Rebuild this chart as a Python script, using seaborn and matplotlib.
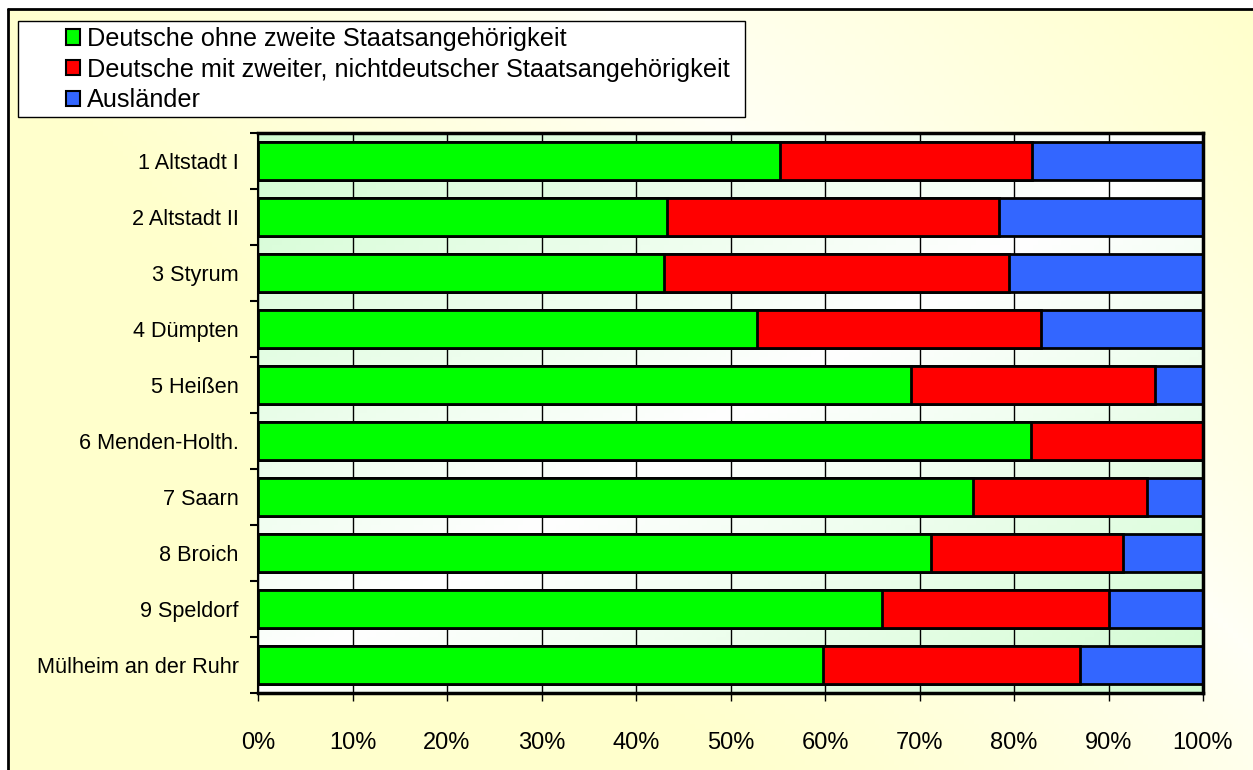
import numpy as np
import pandas as pd
import matplotlib
matplotlib.use("Agg")
import matplotlib.pyplot as plt
import seaborn as sns
from matplotlib.patches import Patch, Rectangle
from matplotlib.lines import Line2D

# Werte in Prozent
stadtteile = ['1 Altstadt I', '2 Altstadt II', '3 Styrum', '4 Dümpten', '5 Heißen',
              '6 Menden-Holth.', '7 Saarn', '8 Broich', '9 Speldorf', 'Mülheim an der Ruhr']
deutsche_ohne = [55.2, 43.3, 43.0, 52.8, 69.1, 81.8, 75.7, 71.2, 66.0, 59.8]
deutsche_mit = [26.7, 35.1, 36.5, 30.1, 25.8, 18.2, 18.4, 20.3, 24.0, 27.2]
auslaender = [18.1, 21.6, 20.5, 17.1, 5.1, 0.0, 5.9, 8.5, 10.0, 13.0]

serien = ['Deutsche ohne zweite Staatsangehörigkeit',
          'Deutsche mit zweiter, nichtdeutscher Staatsangehörigkeit',
          'Ausländer']
farben = ['#00FF00', '#FF0000', '#3366FF']

df = pd.DataFrame({'stadtteil': stadtteile, 'g': deutsche_ohne,
                   'r': deutsche_mit, 'b': auslaender})
df['cum_g'] = df['g']
df['cum_r'] = df['g'] + df['r']
df['cum_b'] = df['g'] + df['r'] + df['b']

sns.set_style('white')
plt.rcParams['font.family'] = ['Liberation Sans', 'DejaVu Sans']
plt.rcParams['text.color'] = 'black'
plt.rcParams['xtick.color'] = 'black'
plt.rcParams['ytick.color'] = 'black'

W, H = 1253, 770
fig = plt.figure(figsize=(W / 100, H / 100), dpi=100, facecolor='white')

# Hintergrund der Abbildung (gelblicher Verlauf, Pixelkoordinaten)
bg = fig.add_axes([8 / W, 0, 1 - 8 / W, 1 - 9 / H], zorder=-10)
px, py = np.meshgrid(np.linspace(8, W, 250), np.linspace(9, H, 150))
t = np.clip(np.abs((px - py) - 600) / 650, 0, 1) ** 0.8
gelb = np.array([1.0, 1.0, 0.80])
weiss = np.array([1.0, 1.0, 0.97])
img = weiss + (gelb - weiss) * t[..., None]
bg.imshow(img, aspect='auto', extent=(0, 1, 1, 0))
bg.set_axis_off()

# Rahmenlinien links und oben
fig.add_artist(Line2D([8 / W, 8 / W], [0, 1 - 9 / H], color='black', lw=2, transform=fig.transFigure))
fig.add_artist(Line2D([8 / W, 1], [1 - 9 / H, 1 - 9 / H], color='black', lw=2, transform=fig.transFigure))

ax = fig.add_axes([258 / W, 1 - 693 / H, (1203 - 258) / W, (693 - 133) / H])

# Verlauf im Diagrammbereich
xx2, yy2 = np.meshgrid(np.linspace(0, 1, 200), np.linspace(0, 1, 120))
t2 = np.abs(xx2 + yy2 - 1)
gruen = np.array([0.82, 0.99, 0.82])
img2 = np.array([1.0, 1.0, 1.0]) + (gruen - 1.0) * t2[..., None]
ax.imshow(img2, aspect='auto', extent=(0, 100, len(stadtteile) - 0.5, -0.5), zorder=0.1)

# gestapelte Balken: von hinten nach vorne
for spalte, farbe in zip(['cum_b', 'cum_r', 'cum_g'], farben[::-1]):
    sns.barplot(data=df, x=spalte, y='stadtteil', color=farbe, saturation=1,
                edgecolor='black', linewidth=2, width=0.68, orient='h', ax=ax, zorder=2)

ax.set_xlim(0, 100)
ax.set_ylim(len(stadtteile) - 0.5, -0.5)
ax.set_xlabel('')
ax.set_ylabel('')

ax.set_xticks(np.arange(0, 101, 10))
ax.set_xticklabels([f'{v}%' for v in range(0, 101, 10)])
ax.grid(axis='x', color='black', lw=1, zorder=0.5)
ax.grid(axis='y', visible=False)
ax.set_axisbelow(True)

ax.set_yticks(np.arange(-0.5, len(stadtteile), 1))
ax.set_yticklabels([])
ax.set_yticks(np.arange(len(stadtteile)), minor=True)
ax.set_yticklabels(stadtteile, minor=True)

ax.tick_params(axis='x', which='major', direction='out', length=6, width=1,
               labelsize=17, pad=22, bottom=True, labelcolor='black')
ax.tick_params(axis='y', which='major', direction='out', length=6, width=1.5, left=True)
ax.tick_params(axis='y', which='minor', length=0, labelsize=15.6, pad=14, left=True,
               labelcolor='black')

for s in ['top', 'right', 'bottom']:
    ax.spines[s].set_linewidth(2.5)
    ax.spines[s].set_color('black')
ax.spines['left'].set_linewidth(1.5)
ax.spines['left'].set_color('black')

# Legende mit eigenem Rahmen
fig.add_artist(Rectangle((18 / W, 1 - 117 / H), (745 - 18) / W, (117 - 21) / H,
                         transform=fig.transFigure, facecolor='white',
                         edgecolor='black', lw=1, zorder=3))
handles = [Patch(facecolor=f, edgecolor='black', lw=1.5) for f in farben]
leg = fig.legend(handles, serien, loc='upper left',
                 bbox_to_anchor=(66 / W, 1 - 27 / H), frameon=False,
                 fontsize=18.2, handlelength=0.56, handleheight=0.56,
                 handletextpad=0.28, labelspacing=0.26, borderpad=0, borderaxespad=0)
for txt in leg.get_texts():
    txt.set_color('black')
leg.set_zorder(4)

fig.savefig('out.png', dpi=100, facecolor=fig.get_facecolor())
